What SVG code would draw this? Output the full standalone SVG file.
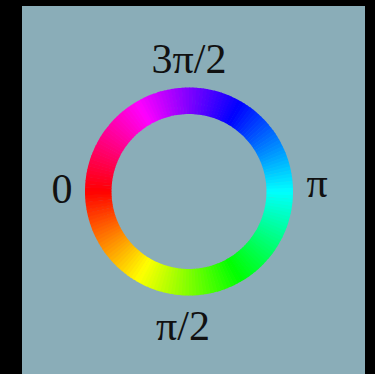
<svg xmlns="http://www.w3.org/2000/svg" xmlns:xlink="http://www.w3.org/1999/xlink" width="375" height="374" viewBox="0 0 375 374">
<style>
.lbl{font-family:"Liberation Serif","Times New Roman",serif;font-size:42px;fill:#111;text-anchor:middle}
.seg{fill:none;stroke-width:26.5;stroke-dasharray:3.8 600}
</style>
<defs>
<circle id="c" class="seg" cx="0" cy="0" r="90.75"/>
</defs>
<rect width="375" height="374" fill="#000"/>
<rect x="22" y="6" width="343" height="368" fill="#8aadb8"/>
<g id="ring" transform="translate(189 191.5)">
<use href="#c" transform="rotate(0)" stroke="hsl(179,100%,50%)"/>
<use href="#c" transform="rotate(2)" stroke="hsl(177,100%,50%)"/>
<use href="#c" transform="rotate(4)" stroke="hsl(175,100%,50%)"/>
<use href="#c" transform="rotate(6)" stroke="hsl(173,100%,50%)"/>
<use href="#c" transform="rotate(8)" stroke="hsl(171,100%,50%)"/>
<use href="#c" transform="rotate(10)" stroke="hsl(169,100%,50%)"/>
<use href="#c" transform="rotate(12)" stroke="hsl(167,100%,50%)"/>
<use href="#c" transform="rotate(14)" stroke="hsl(165,100%,50%)"/>
<use href="#c" transform="rotate(16)" stroke="hsl(163,100%,50%)"/>
<use href="#c" transform="rotate(18)" stroke="hsl(161,100%,50%)"/>
<use href="#c" transform="rotate(20)" stroke="hsl(159,100%,50%)"/>
<use href="#c" transform="rotate(22)" stroke="hsl(157,100%,50%)"/>
<use href="#c" transform="rotate(24)" stroke="hsl(155,100%,50%)"/>
<use href="#c" transform="rotate(26)" stroke="hsl(153,100%,50%)"/>
<use href="#c" transform="rotate(28)" stroke="hsl(151,100%,50%)"/>
<use href="#c" transform="rotate(30)" stroke="hsl(149,100%,50%)"/>
<use href="#c" transform="rotate(32)" stroke="hsl(147,100%,50%)"/>
<use href="#c" transform="rotate(34)" stroke="hsl(145,100%,50%)"/>
<use href="#c" transform="rotate(36)" stroke="hsl(143,100%,50%)"/>
<use href="#c" transform="rotate(38)" stroke="hsl(141,100%,50%)"/>
<use href="#c" transform="rotate(40)" stroke="hsl(139,100%,50%)"/>
<use href="#c" transform="rotate(42)" stroke="hsl(137,100%,50%)"/>
<use href="#c" transform="rotate(44)" stroke="hsl(135,100%,50%)"/>
<use href="#c" transform="rotate(46)" stroke="hsl(133,100%,50%)"/>
<use href="#c" transform="rotate(48)" stroke="hsl(131,100%,50%)"/>
<use href="#c" transform="rotate(50)" stroke="hsl(129,100%,50%)"/>
<use href="#c" transform="rotate(52)" stroke="hsl(127,100%,50%)"/>
<use href="#c" transform="rotate(54)" stroke="hsl(125,100%,50%)"/>
<use href="#c" transform="rotate(56)" stroke="hsl(123,100%,50%)"/>
<use href="#c" transform="rotate(58)" stroke="hsl(121,100%,50%)"/>
<use href="#c" transform="rotate(60)" stroke="hsl(119,100%,50%)"/>
<use href="#c" transform="rotate(62)" stroke="hsl(117,100%,50%)"/>
<use href="#c" transform="rotate(64)" stroke="hsl(115,100%,50%)"/>
<use href="#c" transform="rotate(66)" stroke="hsl(113,100%,50%)"/>
<use href="#c" transform="rotate(68)" stroke="hsl(111,100%,50%)"/>
<use href="#c" transform="rotate(70)" stroke="hsl(109,100%,50%)"/>
<use href="#c" transform="rotate(72)" stroke="hsl(107,100%,50%)"/>
<use href="#c" transform="rotate(74)" stroke="hsl(105,100%,50%)"/>
<use href="#c" transform="rotate(76)" stroke="hsl(103,100%,50%)"/>
<use href="#c" transform="rotate(78)" stroke="hsl(101,100%,50%)"/>
<use href="#c" transform="rotate(80)" stroke="hsl(99,100%,50%)"/>
<use href="#c" transform="rotate(82)" stroke="hsl(97,100%,50%)"/>
<use href="#c" transform="rotate(84)" stroke="hsl(95,100%,50%)"/>
<use href="#c" transform="rotate(86)" stroke="hsl(93,100%,50%)"/>
<use href="#c" transform="rotate(88)" stroke="hsl(91,100%,50%)"/>
<use href="#c" transform="rotate(90)" stroke="hsl(89,100%,50%)"/>
<use href="#c" transform="rotate(92)" stroke="hsl(87,100%,50%)"/>
<use href="#c" transform="rotate(94)" stroke="hsl(85,100%,50%)"/>
<use href="#c" transform="rotate(96)" stroke="hsl(83,100%,50%)"/>
<use href="#c" transform="rotate(98)" stroke="hsl(81,100%,50%)"/>
<use href="#c" transform="rotate(100)" stroke="hsl(79,100%,50%)"/>
<use href="#c" transform="rotate(102)" stroke="hsl(77,100%,50%)"/>
<use href="#c" transform="rotate(104)" stroke="hsl(75,100%,50%)"/>
<use href="#c" transform="rotate(106)" stroke="hsl(73,100%,50%)"/>
<use href="#c" transform="rotate(108)" stroke="hsl(71,100%,50%)"/>
<use href="#c" transform="rotate(110)" stroke="hsl(69,100%,50%)"/>
<use href="#c" transform="rotate(112)" stroke="hsl(67,100%,50%)"/>
<use href="#c" transform="rotate(114)" stroke="hsl(65,100%,50%)"/>
<use href="#c" transform="rotate(116)" stroke="hsl(63,100%,50%)"/>
<use href="#c" transform="rotate(118)" stroke="hsl(61,100%,50%)"/>
<use href="#c" transform="rotate(120)" stroke="hsl(59,100%,50%)"/>
<use href="#c" transform="rotate(122)" stroke="hsl(57,100%,50%)"/>
<use href="#c" transform="rotate(124)" stroke="hsl(55,100%,50%)"/>
<use href="#c" transform="rotate(126)" stroke="hsl(53,100%,50%)"/>
<use href="#c" transform="rotate(128)" stroke="hsl(51,100%,50%)"/>
<use href="#c" transform="rotate(130)" stroke="hsl(49,100%,50%)"/>
<use href="#c" transform="rotate(132)" stroke="hsl(47,100%,50%)"/>
<use href="#c" transform="rotate(134)" stroke="hsl(45,100%,50%)"/>
<use href="#c" transform="rotate(136)" stroke="hsl(43,100%,50%)"/>
<use href="#c" transform="rotate(138)" stroke="hsl(41,100%,50%)"/>
<use href="#c" transform="rotate(140)" stroke="hsl(39,100%,50%)"/>
<use href="#c" transform="rotate(142)" stroke="hsl(37,100%,50%)"/>
<use href="#c" transform="rotate(144)" stroke="hsl(35,100%,50%)"/>
<use href="#c" transform="rotate(146)" stroke="hsl(33,100%,50%)"/>
<use href="#c" transform="rotate(148)" stroke="hsl(31,100%,50%)"/>
<use href="#c" transform="rotate(150)" stroke="hsl(29,100%,50%)"/>
<use href="#c" transform="rotate(152)" stroke="hsl(27,100%,50%)"/>
<use href="#c" transform="rotate(154)" stroke="hsl(25,100%,50%)"/>
<use href="#c" transform="rotate(156)" stroke="hsl(23,100%,50%)"/>
<use href="#c" transform="rotate(158)" stroke="hsl(21,100%,50%)"/>
<use href="#c" transform="rotate(160)" stroke="hsl(19,100%,50%)"/>
<use href="#c" transform="rotate(162)" stroke="hsl(17,100%,50%)"/>
<use href="#c" transform="rotate(164)" stroke="hsl(15,100%,50%)"/>
<use href="#c" transform="rotate(166)" stroke="hsl(13,100%,50%)"/>
<use href="#c" transform="rotate(168)" stroke="hsl(11,100%,50%)"/>
<use href="#c" transform="rotate(170)" stroke="hsl(9,100%,50%)"/>
<use href="#c" transform="rotate(172)" stroke="hsl(7,100%,50%)"/>
<use href="#c" transform="rotate(174)" stroke="hsl(5,100%,50%)"/>
<use href="#c" transform="rotate(176)" stroke="hsl(3,100%,50%)"/>
<use href="#c" transform="rotate(178)" stroke="hsl(1,100%,50%)"/>
<use href="#c" transform="rotate(180)" stroke="hsl(359,100%,50%)"/>
<use href="#c" transform="rotate(182)" stroke="hsl(357,100%,50%)"/>
<use href="#c" transform="rotate(184)" stroke="hsl(355,100%,50%)"/>
<use href="#c" transform="rotate(186)" stroke="hsl(353,100%,50%)"/>
<use href="#c" transform="rotate(188)" stroke="hsl(351,100%,50%)"/>
<use href="#c" transform="rotate(190)" stroke="hsl(349,100%,50%)"/>
<use href="#c" transform="rotate(192)" stroke="hsl(347,100%,50%)"/>
<use href="#c" transform="rotate(194)" stroke="hsl(345,100%,50%)"/>
<use href="#c" transform="rotate(196)" stroke="hsl(343,100%,50%)"/>
<use href="#c" transform="rotate(198)" stroke="hsl(341,100%,50%)"/>
<use href="#c" transform="rotate(200)" stroke="hsl(339,100%,50%)"/>
<use href="#c" transform="rotate(202)" stroke="hsl(337,100%,50%)"/>
<use href="#c" transform="rotate(204)" stroke="hsl(335,100%,50%)"/>
<use href="#c" transform="rotate(206)" stroke="hsl(333,100%,50%)"/>
<use href="#c" transform="rotate(208)" stroke="hsl(331,100%,50%)"/>
<use href="#c" transform="rotate(210)" stroke="hsl(329,100%,50%)"/>
<use href="#c" transform="rotate(212)" stroke="hsl(327,100%,50%)"/>
<use href="#c" transform="rotate(214)" stroke="hsl(325,100%,50%)"/>
<use href="#c" transform="rotate(216)" stroke="hsl(323,100%,50%)"/>
<use href="#c" transform="rotate(218)" stroke="hsl(321,100%,50%)"/>
<use href="#c" transform="rotate(220)" stroke="hsl(319,100%,50%)"/>
<use href="#c" transform="rotate(222)" stroke="hsl(317,100%,50%)"/>
<use href="#c" transform="rotate(224)" stroke="hsl(315,100%,50%)"/>
<use href="#c" transform="rotate(226)" stroke="hsl(313,100%,50%)"/>
<use href="#c" transform="rotate(228)" stroke="hsl(311,100%,50%)"/>
<use href="#c" transform="rotate(230)" stroke="hsl(309,100%,50%)"/>
<use href="#c" transform="rotate(232)" stroke="hsl(307,100%,50%)"/>
<use href="#c" transform="rotate(234)" stroke="hsl(305,100%,50%)"/>
<use href="#c" transform="rotate(236)" stroke="hsl(303,100%,50%)"/>
<use href="#c" transform="rotate(238)" stroke="hsl(301,100%,50%)"/>
<use href="#c" transform="rotate(240)" stroke="hsl(299,100%,50%)"/>
<use href="#c" transform="rotate(242)" stroke="hsl(297,100%,50%)"/>
<use href="#c" transform="rotate(244)" stroke="hsl(295,100%,50%)"/>
<use href="#c" transform="rotate(246)" stroke="hsl(293,100%,50%)"/>
<use href="#c" transform="rotate(248)" stroke="hsl(291,100%,50%)"/>
<use href="#c" transform="rotate(250)" stroke="hsl(289,100%,50%)"/>
<use href="#c" transform="rotate(252)" stroke="hsl(287,100%,50%)"/>
<use href="#c" transform="rotate(254)" stroke="hsl(285,100%,50%)"/>
<use href="#c" transform="rotate(256)" stroke="hsl(283,100%,50%)"/>
<use href="#c" transform="rotate(258)" stroke="hsl(281,100%,50%)"/>
<use href="#c" transform="rotate(260)" stroke="hsl(279,100%,50%)"/>
<use href="#c" transform="rotate(262)" stroke="hsl(277,100%,50%)"/>
<use href="#c" transform="rotate(264)" stroke="hsl(275,100%,50%)"/>
<use href="#c" transform="rotate(266)" stroke="hsl(273,100%,50%)"/>
<use href="#c" transform="rotate(268)" stroke="hsl(271,100%,50%)"/>
<use href="#c" transform="rotate(270)" stroke="hsl(269,100%,50%)"/>
<use href="#c" transform="rotate(272)" stroke="hsl(267,100%,50%)"/>
<use href="#c" transform="rotate(274)" stroke="hsl(265,100%,50%)"/>
<use href="#c" transform="rotate(276)" stroke="hsl(263,100%,50%)"/>
<use href="#c" transform="rotate(278)" stroke="hsl(261,100%,50%)"/>
<use href="#c" transform="rotate(280)" stroke="hsl(259,100%,50%)"/>
<use href="#c" transform="rotate(282)" stroke="hsl(257,100%,50%)"/>
<use href="#c" transform="rotate(284)" stroke="hsl(255,100%,50%)"/>
<use href="#c" transform="rotate(286)" stroke="hsl(253,100%,50%)"/>
<use href="#c" transform="rotate(288)" stroke="hsl(251,100%,50%)"/>
<use href="#c" transform="rotate(290)" stroke="hsl(249,100%,50%)"/>
<use href="#c" transform="rotate(292)" stroke="hsl(247,100%,50%)"/>
<use href="#c" transform="rotate(294)" stroke="hsl(245,100%,50%)"/>
<use href="#c" transform="rotate(296)" stroke="hsl(243,100%,50%)"/>
<use href="#c" transform="rotate(298)" stroke="hsl(241,100%,50%)"/>
<use href="#c" transform="rotate(300)" stroke="hsl(239,100%,50%)"/>
<use href="#c" transform="rotate(302)" stroke="hsl(237,100%,50%)"/>
<use href="#c" transform="rotate(304)" stroke="hsl(235,100%,50%)"/>
<use href="#c" transform="rotate(306)" stroke="hsl(233,100%,50%)"/>
<use href="#c" transform="rotate(308)" stroke="hsl(231,100%,50%)"/>
<use href="#c" transform="rotate(310)" stroke="hsl(229,100%,50%)"/>
<use href="#c" transform="rotate(312)" stroke="hsl(227,100%,50%)"/>
<use href="#c" transform="rotate(314)" stroke="hsl(225,100%,50%)"/>
<use href="#c" transform="rotate(316)" stroke="hsl(223,100%,50%)"/>
<use href="#c" transform="rotate(318)" stroke="hsl(221,100%,50%)"/>
<use href="#c" transform="rotate(320)" stroke="hsl(219,100%,50%)"/>
<use href="#c" transform="rotate(322)" stroke="hsl(217,100%,50%)"/>
<use href="#c" transform="rotate(324)" stroke="hsl(215,100%,50%)"/>
<use href="#c" transform="rotate(326)" stroke="hsl(213,100%,50%)"/>
<use href="#c" transform="rotate(328)" stroke="hsl(211,100%,50%)"/>
<use href="#c" transform="rotate(330)" stroke="hsl(209,100%,50%)"/>
<use href="#c" transform="rotate(332)" stroke="hsl(207,100%,50%)"/>
<use href="#c" transform="rotate(334)" stroke="hsl(205,100%,50%)"/>
<use href="#c" transform="rotate(336)" stroke="hsl(203,100%,50%)"/>
<use href="#c" transform="rotate(338)" stroke="hsl(201,100%,50%)"/>
<use href="#c" transform="rotate(340)" stroke="hsl(199,100%,50%)"/>
<use href="#c" transform="rotate(342)" stroke="hsl(197,100%,50%)"/>
<use href="#c" transform="rotate(344)" stroke="hsl(195,100%,50%)"/>
<use href="#c" transform="rotate(346)" stroke="hsl(193,100%,50%)"/>
<use href="#c" transform="rotate(348)" stroke="hsl(191,100%,50%)"/>
<use href="#c" transform="rotate(350)" stroke="hsl(189,100%,50%)"/>
<use href="#c" transform="rotate(352)" stroke="hsl(187,100%,50%)"/>
<use href="#c" transform="rotate(354)" stroke="hsl(185,100%,50%)"/>
<use href="#c" transform="rotate(356)" stroke="hsl(183,100%,50%)"/>
<use href="#c" transform="rotate(358)" stroke="hsl(181,100%,50%)"/>
</g>
<g id="label-3pi2"><text class="lbl" x="189" y="73">3π/2</text></g>
<g id="label-0"><text class="lbl" x="62" y="203">0</text></g>
<g id="label-pi"><text class="lbl" x="317" y="197">π</text></g>
<g id="label-pi2"><text class="lbl" x="183" y="340">π/2</text></g>
</svg>
